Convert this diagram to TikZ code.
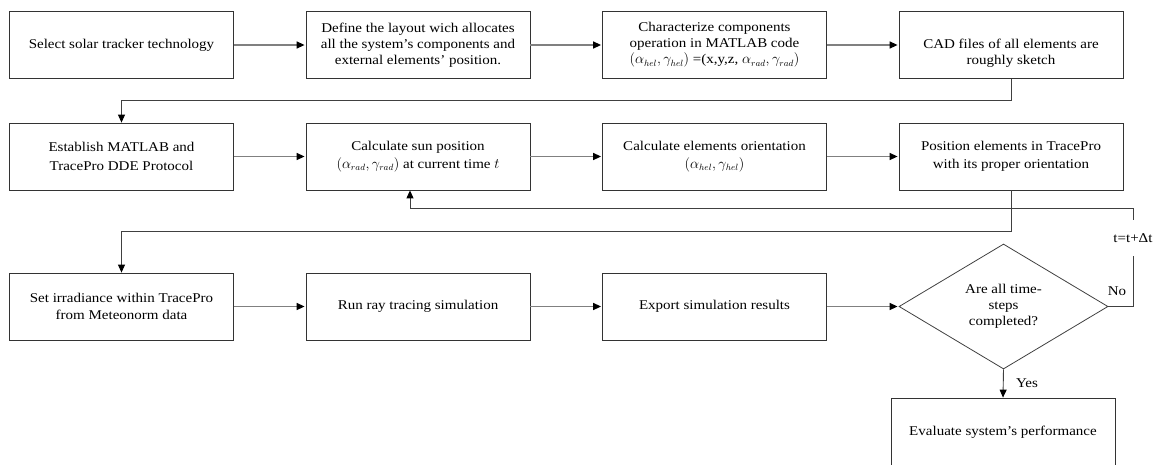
\documentclass[tikz,border=0pt]{standalone}
\usepackage{fontspec}
\setmainfont{Liberation Serif}[FakeStretch=1.12]
\usetikzlibrary{arrows.meta,shapes.geometric}
\begin{document}
\begin{tikzpicture}[x=1pt,y=-1pt,
  txt/.style={font=\fontsize{13.4}{16}\selectfont},
  box/.style={txt, draw=black!80, line width=0.8pt, minimum width=224pt, minimum height=67pt, align=center, inner sep=2pt},
  rowtwo/.style={font=\fontsize{13.4}{18.5}\selectfont},
  decision/.style={txt, diamond, draw=black!75, line width=0.8pt, minimum width=209pt, minimum height=125pt, inner sep=0pt, align=center},
  arr/.style={draw=black!50, line width=1.4pt, shorten >=1pt, -{Triangle[length=8pt,width=7pt,color=black]}},
  elbow/.style={draw=black!75, line width=0.9pt, -{Triangle[length=8pt,width=7pt,color=black]}},
  plain/.style={draw=black!75, line width=0.9pt}
]
\useasboundingbox (0,0) rectangle (1171,464);
% row 1
\node[box] (b1) at (121.5,45) {Select solar tracker technology};
\node[box] (b2) at (418,45) {Define the layout wich allocates\\all the system’s components and\\external elements’ position.};
\node[box] (b3) at (714.5,45) {Characterize components\\operation in MATLAB code\\$(\alpha_{hel},\gamma_{hel})$ =(x,y,z, $\alpha_{rad},\gamma_{rad})$};
\node[box, label={[txt, align=center, yshift=-8pt]center:{CAD files of all elements are\\roughly sketch}}] (b4) at (1011,45) {};
% row 2
\node[box, rowtwo] (b5) at (121.5,156.5) {Establish MATLAB and\\TracePro DDE Protocol};
\node[box, rowtwo] (b6) at (418,156.5) {Calculate sun position\\$(\alpha_{rad},\gamma_{rad})$ at current time $t$};
\node[box, rowtwo] (b7) at (714.5,156.5) {Calculate elements orientation\\$(\alpha_{hel},\gamma_{hel})$};
\node[box, rowtwo] (b8) at (1011,156.5) {Position elements in TracePro\\with its proper orientation};
% row 3
\node[box, font=\fontsize{13.4}{17}\selectfont] (b9) at (121.5,306.5) {Set irradiance within TracePro\\from Meteonorm data};
\node[box] (b10) at (418,306.5) {Run ray tracing simulation};
\node[box] (b11) at (714.5,306.5) {Export simulation results};
\node[decision] (d) at (1003.5,306.5) {Are all time-\\steps\\completed?};
\node[box, minimum height=68pt] (b12) at (1003,432) {Evaluate system’s performance};
% labels
\node[txt, minimum height=36pt, inner sep=0pt] (tdt) at (1133,238) {t=t+Δt};
\node[txt] (no) at (1117,291) {No};
\node[txt] (yes) at (1027,383) {Yes};
\coordinate (fl) at (410,208);
% connectors
\draw[arr] (b1.east) -- (b2.west);
\draw[arr] (b2.east) -- (b3.west);
\draw[arr] (b3.east) -- (b4.west);
\draw[elbow] (b4.south) -- ++(0,22) -| (b5.north);
\draw[arr] (b5.east) -- (b6.west);
\draw[arr] (b6.east) -- (b7.west);
\draw[arr] (b7.east) -- (b8.west);
\draw[elbow] (b8.south) -- ++(0,41) -| (b9.north);
\draw[arr] (b9.east) -- (b10.west);
\draw[arr] (b10.east) -- (b11.west);
\draw[arr] (b11.east) -- (d.west);
\draw[plain] (d.east) -| (tdt.south);
\draw[elbow] (tdt.north) |- (fl) -- (fl |- b6.south);
\draw[elbow] (d.south) -- (b12.north);
\end{tikzpicture}
\end{document}
